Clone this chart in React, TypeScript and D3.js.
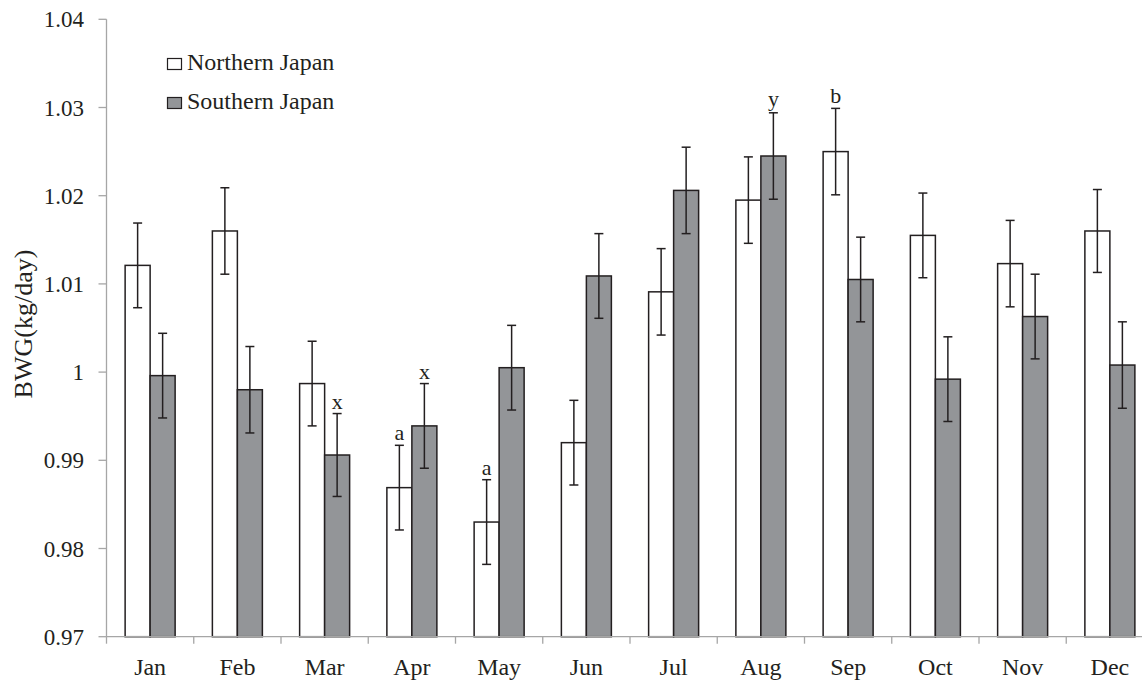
import React from 'react';
import * as d3 from 'd3';

const months = ['Jan', 'Feb', 'Mar', 'Apr', 'May', 'Jun', 'Jul', 'Aug', 'Sep', 'Oct', 'Nov', 'Dec'];
const seriesNames = ['Northern Japan', 'Southern Japan'];

// mean BWG (kg/day)
const northern = [1.0121, 1.0160, 0.9987, 0.9869, 0.9830, 0.9920, 1.0091, 1.0195, 1.0250, 1.0155, 1.0123, 1.0160];
const southern = [0.9996, 0.9980, 0.9906, 0.9939, 1.0005, 1.0109, 1.0206, 1.0245, 1.0105, 0.9992, 1.0063, 1.0008];
const northernErr = [0.0048, 0.0049, 0.0048, 0.0048, 0.0048, 0.0048, 0.0049, 0.0049, 0.0049, 0.0048, 0.0049, 0.0047];
const southernErr = [0.0048, 0.0049, 0.0047, 0.0048, 0.0048, 0.0048, 0.0049, 0.0049, 0.0048, 0.0048, 0.0048, 0.0049];

// significance letters above error bars
const northernLetters = ['', '', '', 'a', 'a', '', '', '', 'b', '', '', ''];
const southernLetters = ['', '', 'x', 'x', '', '', '', 'y', '', '', '', ''];

const yTicks = [0.97, 0.98, 0.99, 1, 1.01, 1.02, 1.03, 1.04];

const W = 1142;
const H = 680;
const FONT = "'Liberation Serif', 'Times New Roman', 'DejaVu Serif', serif";
const AXIS = '#a6a6a6';
const INK = '#231f20';
const GREY = '#939598';

export default function App() {
  const left = 106.5;
  const step = 87.25;
  const x = d3.scaleBand<string>().domain(months).range([left, left + step * months.length]).padding(0);
  const inner = d3.scaleBand<string>().domain(['N', 'S']).range([0, x.bandwidth()]).paddingInner(0).paddingOuter(0.745);
  const y = d3.scaleLinear().domain([0.97, 1.04]).range([636.7, 19.3]);

  const series = [
    { key: 'N', values: northern, err: northernErr, letters: northernLetters, fill: '#ffffff' },
    { key: 'S', values: southern, err: southernErr, letters: southernLetters, fill: GREY },
  ];

  const cap = 4.5;
  const baseY = y(0.97);
  const txt = { fontFamily: FONT, fontSize: 23, fill: INK } as React.CSSProperties;

  return (
    <svg width={W} height={H} style={{ position: 'absolute', left: 0, top: 0, background: '#fff' }}>
      {/* y axis */}
      <line x1={left} x2={left} y1={y(1.04)} y2={baseY} stroke={AXIS} strokeWidth={1.3} />
      {yTicks.map((t) => (
        <g key={t}>
          <line x1={left - 8} x2={left} y1={y(t)} y2={y(t)} stroke={AXIS} strokeWidth={1.3} />
          <text x={84} y={y(t)} dy="0.35em" textAnchor="end" style={txt}>
            {d3.format('~g')(t)}
          </text>
        </g>
      ))}
      <text transform={`translate(32,${(y(1.04) + baseY) / 2 - 4}) rotate(-90)`} textAnchor="middle" style={{ ...txt, fontSize: 26 }}>
        BWG(kg/day)
      </text>

      {/* bars */}
      {series.map((s) =>
        months.map((m, i) => {
          const bx = (x(m) as number) + (inner(s.key) as number);
          const bw = inner.bandwidth();
          const cx = bx + bw / 2;
          const v = s.values[i];
          const top = y(v + s.err[i]);
          const bot = y(v - s.err[i]);
          return (
            <g key={s.key + m}>
              <rect x={bx} y={y(v)} width={bw} height={baseY - y(v)} fill={s.fill} stroke={INK} strokeWidth={1.5} />
              <line x1={cx} x2={cx} y1={top} y2={bot} stroke={INK} strokeWidth={1.5} />
              <line x1={cx - cap} x2={cx + cap} y1={top} y2={top} stroke={INK} strokeWidth={1.5} />
              <line x1={cx - cap} x2={cx + cap} y1={bot} y2={bot} stroke={INK} strokeWidth={1.5} />
              {s.letters[i] && (
                <text x={cx} y={top - (s.letters[i] === 'y' ? 7 : 5)} textAnchor="middle" style={{ ...txt, fontSize: 22 }}>
                  {s.letters[i]}
                </text>
              )}
            </g>
          );
        })
      )}

      {/* x axis */}
      <line x1={left} x2={W} y1={baseY} y2={baseY} stroke={AXIS} strokeWidth={1.3} />
      {months.map((m) => (
        <g key={m}>
          <line x1={x(m) as number} x2={x(m) as number} y1={baseY} y2={baseY + 7} stroke={AXIS} strokeWidth={1.3} />
          <text x={(x(m) as number) + x.bandwidth() / 2} y={675} textAnchor="middle" style={{ ...txt, fontSize: 24 }}>
            {m}
          </text>
        </g>
      ))}

      {/* legend */}
      {seriesNames.map((n, i) => (
        <g key={n} transform={`translate(167,${58 + i * 39})`}>
          <rect x={0.5} y={0.5} width={14} height={11} fill={i === 0 ? '#ffffff' : GREY} stroke={INK} strokeWidth={1.2} />
          <text x={20} y={12} style={{ ...txt, fontSize: 24 }}>
            {n}
          </text>
        </g>
      ))}
    </svg>
  );
}
